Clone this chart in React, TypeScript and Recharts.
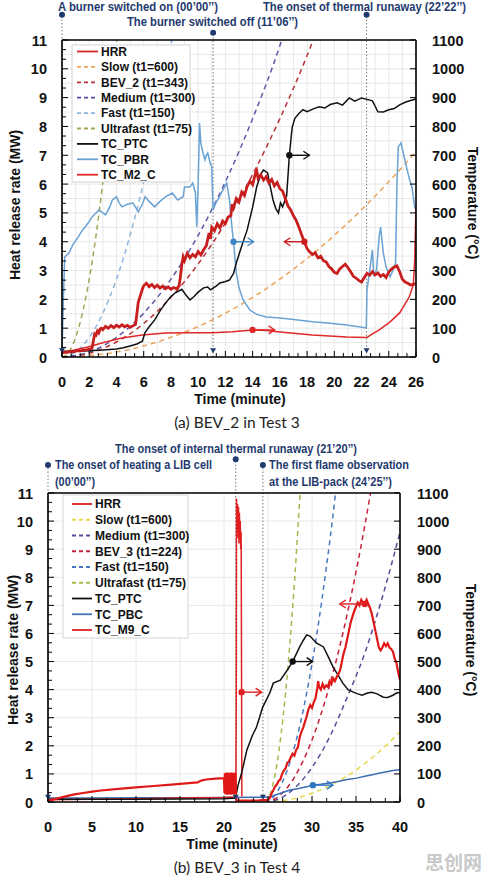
import React from 'react';
import { ComposedChart, Line, XAxis, YAxis, CartesianGrid, ReferenceLine, ReferenceDot } from 'recharts';

type P = [number, number];

// ---------- Panel (a): BEV_2 in Test 3 ----------
const topXLabels = [0, 2, 4, 6, 8, 10, 12, 14, 16, 18, 20, 22, 24, 26];
const hrrLabels = [0, 1, 2, 3, 4, 5, 6, 7, 8, 9, 10, 11];
const tempLabels = [0, 100, 200, 300, 400, 500, 600, 700, 800, 900, 1000, 1100];

const topHRR: P[] = [
  [0, 0.15], [0.2, 0.17], [0.4, 0.16], [0.6, 0.19], [0.8, 0.18], [1.0, 0.2], [1.2, 0.22], [1.4, 0.21],
  [1.6, 0.24], [1.8, 0.25], [2.0, 0.27], [2.2, 0.3], [2.3, 0.55], [2.4, 0.8], [2.5, 0.76], [2.6, 0.9],
  [2.7, 0.84], [2.8, 0.97], [2.9, 1.0], [3.0, 0.95], [3.2, 1.06], [3.4, 1.0], [3.6, 1.09], [3.8, 1.02],
  [4.0, 1.1], [4.2, 1.04], [4.4, 1.12], [4.6, 1.05], [4.8, 1.1], [5.0, 1.03], [5.2, 1.08], [5.4, 1.13],
  [5.5, 1.5], [5.6, 1.9], [5.8, 2.2], [5.9, 2.35], [6.0, 2.47], [6.2, 2.56], [6.4, 2.44], [6.6, 2.52],
  [6.8, 2.41], [7.0, 2.49], [7.2, 2.39], [7.4, 2.46], [7.6, 2.37], [7.8, 2.43], [8.0, 2.35], [8.2, 2.41],
  [8.4, 2.37], [8.6, 2.46], [8.7, 2.8], [8.8, 3.2], [8.9, 3.47], [9.0, 3.34], [9.2, 3.6], [9.4, 3.44],
  [9.6, 3.56], [9.8, 3.48], [10.0, 3.66], [10.2, 3.54], [10.4, 3.72], [10.6, 3.86], [10.8, 4.3], [10.9, 4.1],
  [11.0, 4.5], [11.2, 4.38], [11.4, 4.62], [11.6, 4.48], [11.8, 4.72], [12.0, 4.63], [12.2, 4.86], [12.4, 4.9],
  [12.5, 5.3], [12.6, 5.18], [12.8, 5.5], [13.0, 5.38], [13.2, 5.72], [13.4, 5.6], [13.6, 5.92], [13.8, 6.1],
  [14.0, 5.98], [14.2, 6.36], [14.3, 6.46], [14.4, 6.2], [14.6, 6.32], [14.8, 6.14], [15.0, 6.26], [15.2, 6.04],
  [15.4, 6.16], [15.6, 5.94], [15.8, 6.06], [16.0, 5.84], [16.2, 5.76], [16.4, 5.5], [16.6, 5.24], [16.8, 5.1],
  [17.0, 4.9], [17.2, 4.74], [17.4, 4.5], [17.6, 4.24], [17.8, 4.0], [18.0, 3.76], [18.2, 3.64], [18.4, 3.56],
  [18.6, 3.62], [18.8, 3.44], [19.0, 3.5], [19.2, 3.34], [19.4, 3.3], [19.6, 3.14], [19.8, 3.06], [20.0, 2.94],
  [20.2, 2.9], [20.4, 3.06], [20.6, 3.14], [20.8, 3.22], [21.0, 3.1], [21.2, 2.96], [21.4, 2.8], [21.6, 2.74],
  [21.8, 2.66], [22.0, 2.6], [22.2, 2.76], [22.4, 2.9], [22.6, 2.84], [22.8, 2.96], [23.0, 2.85], [23.2, 2.92],
  [23.4, 2.8], [23.6, 2.86], [23.8, 2.76], [24.0, 2.95], [24.2, 3.05], [24.4, 3.12], [24.6, 3.16], [24.8, 2.96],
  [25.0, 2.7], [25.2, 2.6], [25.4, 2.56], [25.6, 2.5], [25.8, 2.52], [26.0, 2.55],
];
const topSlow: P[] = [[0, 0], [4, 0.17], [8, 0.68], [12, 1.52], [16, 2.7], [20, 4.22], [24, 6.08], [26, 7.13]];
const topBEV2: P[] = [[0, 0], [2, 0.13], [4, 0.52], [6, 1.16], [8, 2.07], [10, 3.23], [12, 4.65], [14, 6.33], [16, 8.27], [18, 10.46], [18.45, 11]];
const topMedium: P[] = [[0, 0], [2, 0.17], [4, 0.68], [6, 1.52], [8, 2.7], [10, 4.22], [12, 6.08], [14, 8.27], [16, 10.8], [16.14, 11]];
const topFast: P[] = [[0, 0], [1, 0.17], [2, 0.68], [3, 1.52], [4, 2.7], [5, 4.22], [6, 6.08], [7, 8.27], [8, 10.8], [8.07, 11]];
const topUltra: P[] = [[0, 0], [0.5, 0.17], [1, 0.68], [1.5, 1.52], [2, 2.7], [2.5, 4.22], [3, 6.08], [3.5, 8.27], [4, 10.8], [4.04, 11]];
const topPTC: P[] = [
  [0, 20], [1, 20], [2, 22], [3, 24], [4, 28], [4.5, 32], [5, 38], [5.5, 45], [5.9, 55], [6.1, 85], [6.4, 105],
  [6.8, 128], [7.2, 160], [7.6, 187], [8.0, 210], [8.3, 222], [8.8, 235], [9.1, 215], [9.4, 198], [9.7, 210],
  [10.0, 225], [10.4, 240], [10.7, 243], [10.9, 233], [11.3, 245], [11.6, 257], [12.0, 262], [12.3, 267],
  [12.6, 290], [12.8, 326], [13.2, 385], [13.6, 441], [14.0, 520], [14.3, 590], [14.6, 635], [14.8, 649],
  [15.1, 639], [15.3, 590], [15.5, 545], [15.7, 515], [15.9, 500], [16.05, 535], [16.2, 521], [16.35, 540],
  [16.5, 560], [16.7, 700], [16.9, 795], [17.1, 828], [17.4, 845], [17.7, 858], [18.0, 851], [18.5, 862],
  [18.9, 868], [19.3, 864], [19.7, 876], [20.2, 882], [20.6, 874], [21.1, 899], [21.5, 888], [22.0, 899],
  [22.4, 894], [22.8, 889], [23.0, 870], [23.2, 851], [23.6, 850], [24.0, 858], [24.4, 862], [24.8, 875],
  [25.2, 884], [25.6, 890], [26.0, 895],
];
const topPBR: P[] = [
  [0, 15], [0.1, 200], [0.2, 347], [0.5, 360], [0.8, 390], [1.2, 417], [1.5, 440], [1.7, 451], [2.0, 470],
  [2.2, 486], [2.5, 500], [2.7, 510], [3.0, 500], [3.2, 493], [3.5, 520], [3.7, 545], [4.0, 556], [4.2, 535],
  [4.4, 521], [4.8, 530], [5.2, 535], [5.4, 520], [5.6, 503], [5.9, 530], [6.1, 556], [6.4, 540], [6.8, 521],
  [7.2, 540], [7.6, 556], [8.1, 569], [8.5, 545], [8.9, 556], [9.0, 590], [9.4, 590], [9.6, 604], [9.8, 570],
  [9.9, 451], [10.0, 600], [10.1, 812], [10.2, 740], [10.3, 719], [10.5, 684], [10.6, 700], [10.7, 708],
  [10.9, 670], [11.0, 660], [11.1, 510], [11.3, 535], [11.5, 550], [11.7, 569], [12.1, 604], [12.3, 545],
  [12.5, 440], [12.6, 400], [12.8, 292], [13.0, 240], [13.3, 198], [13.8, 163], [14.3, 148], [15.0, 139],
  [16.0, 135], [17.0, 130], [18.4, 122], [19.5, 118], [20.9, 111], [21.8, 105], [22.35, 101], [22.4, 233],
  [22.6, 300], [22.8, 372], [22.9, 280], [23.1, 302], [23.3, 420], [23.4, 451], [23.6, 361], [23.8, 313],
  [24.1, 278], [24.3, 300], [24.5, 326], [24.6, 600], [24.7, 729], [24.9, 743], [25.1, 700], [25.3, 660],
  [25.5, 620], [25.7, 590], [25.9, 521], [26.0, 510],
];
const topM2C: P[] = [
  [0, 14], [1, 25], [1.9, 35], [3.2, 52], [4.4, 66], [5.9, 76], [7.6, 83], [9.3, 84], [11.1, 84], [12.5, 88],
  [14.0, 94], [15.0, 92], [16.0, 87], [18.4, 76], [20.9, 69], [22.4, 68], [22.8, 80], [23.3, 94], [24.1, 122],
  [24.8, 153], [25.5, 208], [25.8, 250], [25.9, 330], [26.0, 520],
];

// ---------- Panel (b): BEV_3 in Test 4 ----------
const botXLabels = [0, 5, 10, 15, 20, 25, 30, 35, 40];

const botHRR: P[] = [
  [0, 0.05], [1, 0.12], [2, 0.2], [3, 0.27], [4, 0.32], [5, 0.37], [6, 0.41], [8, 0.47], [10, 0.52], [12, 0.57],
  [14, 0.62], [16, 0.67], [17, 0.7], [17.5, 0.77], [18, 0.8], [19, 0.83], [20, 0.85],
  [20.05, 0.32], [20.1, 1.02], [20.15, 0.28], [20.2, 1.04], [20.25, 0.3], [20.3, 1.0], [20.35, 0.26], [20.4, 1.05],
  [20.45, 0.3], [20.5, 1.02], [20.55, 0.27], [20.6, 1.04], [20.65, 0.29], [20.7, 1.03], [20.75, 0.26], [20.8, 1.05],
  [20.85, 0.3], [20.9, 1.02], [20.95, 0.28], [21.0, 1.04], [21.05, 0.27], [21.1, 1.03], [21.15, 0.3], [21.2, 1.05],
  [21.25, 0.28], [21.3, 1.02], [21.35, 0.3], [21.4, 0.06], [22, 0.05], [23, 0.05], [24, 0.06], [25.0, 0.08],
  [25.2, 0.14], [25.4, 0.3], [25.6, 0.42], [25.8, 0.55], [26.0, 0.62], [26.2, 0.75], [26.4, 0.8], [26.6, 1.0],
  [26.8, 1.12], [27.0, 1.2], [27.2, 1.4], [27.4, 1.45], [27.6, 1.6], [27.8, 1.72], [28.0, 1.65], [28.2, 1.85],
  [28.4, 1.95], [28.6, 2.3], [28.8, 2.5], [29.0, 2.65], [29.2, 2.85], [29.4, 3.05], [29.6, 3.3], [29.8, 3.45],
  [30.0, 3.35], [30.2, 3.55], [30.4, 3.7], [30.6, 4.05], [30.7, 4.3], [30.8, 4.1], [31.0, 4.0], [31.2, 4.2],
  [31.4, 4.05], [31.6, 4.15], [31.8, 4.1], [32.0, 4.3], [32.2, 4.2], [32.4, 4.4], [32.6, 4.3], [32.8, 4.45],
  [33.0, 4.55], [33.2, 4.7], [33.4, 5.0], [33.6, 5.3], [33.8, 5.5], [34.0, 5.8], [34.2, 6.1], [34.4, 6.4],
  [34.6, 6.6], [34.8, 6.8], [35.0, 6.95], [35.2, 7.1], [35.4, 7.0], [35.6, 7.2], [35.8, 7.1], [36.0, 7.05],
  [36.2, 7.2], [36.4, 7.05], [36.6, 6.9], [36.8, 6.7], [37.0, 6.4], [37.2, 6.1], [37.4, 5.8], [37.6, 5.5],
  [37.8, 5.4], [38.0, 5.5], [38.2, 5.65], [38.4, 5.55], [38.6, 5.65], [38.8, 5.5], [39.0, 5.45], [39.2, 5.35],
  [39.4, 5.1], [39.6, 4.95], [39.8, 4.6], [40.0, 4.35],
];
const botSlow: P[] = [[24.6, 0], [28, 0.12], [30, 0.31], [32, 0.58], [34, 0.93], [36, 1.37], [38, 1.89], [40, 2.5]];
const botMedium: P[] = [[24.6, 0], [26, 0.08], [28, 0.49], [30, 1.23], [32, 2.31], [34, 3.73], [36, 5.3], [38, 7.3], [40, 9.6]];
const botBEV3: P[] = [[24.6, 0], [26, 0.15], [28, 0.88], [30, 2.21], [32, 4.15], [34, 6.69], [35, 8.19], [36, 9.84], [36.65, 11]];
const botFast: P[] = [[24.6, 0], [25.6, 0.17], [26.6, 0.68], [27.6, 1.52], [28.6, 2.7], [29.6, 4.22], [30.6, 6.08], [31.6, 8.28], [32.6, 10.8], [32.67, 11]];
const botUltra: P[] = [[24.6, 0], [25, 0.11], [25.5, 0.55], [26, 1.32], [26.5, 2.44], [27, 3.89], [27.5, 5.68], [28, 7.8], [28.5, 10.27], [28.64, 11]];
const botPTC: P[] = [
  [0, 10], [5, 10], [10, 10], [15, 11], [20, 12], [21.3, 14], [21.6, 60], [22, 103], [22.6, 185], [23.2, 235],
  [23.7, 267], [24.4, 338], [25.2, 388], [25.6, 423], [26.4, 434], [27.2, 470], [27.8, 500], [28.6, 552],
  [29.0, 575], [29.4, 595], [29.8, 590], [30.5, 566], [31.3, 552], [31.8, 520], [32.4, 480], [33.0, 450],
  [33.5, 423], [34.1, 400], [34.7, 391], [35.2, 385], [35.7, 380], [36.3, 388], [36.8, 391], [37.4, 385],
  [38.1, 373], [38.6, 372], [39.2, 380], [39.6, 388], [40, 390],
];
const botPBC: P[] = [
  [0, 14], [5, 14], [10, 15], [15, 15], [20, 16], [24, 17], [25.2, 18], [26.5, 32], [27.5, 43], [28.5, 48],
  [29.5, 55], [30.1, 60], [31, 63], [32, 68], [32.8, 72], [34, 80], [35.1, 85], [36, 92], [37, 98], [37.7, 103],
  [38.5, 108], [39.2, 112], [40, 115],
];
const botM9C: P[] = [
  [0, 8], [5, 10], [10, 12], [15, 14], [20, 16], [21.35, 18], [21.4, 420], [21.42, 1080], [21.5, 980],
  [21.55, 1060], [21.6, 940], [21.65, 1050], [21.7, 920], [21.75, 1030], [21.8, 960], [21.85, 1000],
  [21.9, 900], [21.95, 960], [22.0, 391], [22.03, 20],
];

// Event times (minutes)
const topEvents = [0, 11.1, 22.37];
const botEvents = [0, 21.33, 24.42];

// ---------- Styling helpers ----------
const FONT = '"Liberation Sans", Arial, Helvetica, sans-serif';
const NAVY = '#1f3a6e';

type Series = { pts: P[]; color: string; width: number; axis: 'L' | 'T'; dash?: string; curve?: 'monotone' | 'linear' };
type Marker = { t: number; v: number; axis: 'L' | 'T'; color: string; dir: 1 | -1; len: number };
type EventMark = { t: number; dotV: number; triV: number };

const near = (a: number, list: number[]) => list.some((l) => Math.abs(l - a) < 1e-6);
const steps = (max: number, step: number) =>
  Array.from({ length: Math.round(max / step) + 1 }, (_, i) => Math.round(i * step * 1000) / 1000);
const rows = (pts: P[]) => pts.map(([t, v]) => ({ t, v }));

const makeXTick = (labels: number[]) => (p: any) => {
  const { x, y, payload } = p;
  const major = near(payload.value, labels);
  return (
    <g>
      <line x1={x} x2={x} y1={y} y2={y - (major ? 6 : 4)} stroke="#000" strokeWidth={1} />
      {major && (
        <text x={x} y={y + 30} textAnchor="middle" fontFamily={FONT} fontWeight={700} fontSize={14.5} fill="#111">
          {payload.value}
        </text>
      )}
    </g>
  );
};
const makeLeftTick = (labels: number[]) => (p: any) => {
  const { x, y, payload } = p;
  const major = near(payload.value, labels);
  return (
    <g>
      <line x1={x} x2={x + (major ? 6 : 4)} y1={y} y2={y} stroke="#000" strokeWidth={1} />
      {major && (
        <text x={x - 15} y={y + 5.5} textAnchor="end" fontFamily={FONT} fontWeight={700} fontSize={14.5} fill="#111">
          {payload.value}
        </text>
      )}
    </g>
  );
};
const makeRightTick = (offset: number) => (p: any) => {
  const { x, y, payload } = p;
  return (
    <g>
      <line x1={x} x2={x - 6} y1={y} y2={y} stroke="#000" strokeWidth={1} />
      <text x={x + offset} y={y + 5.5} textAnchor="start" fontFamily={FONT} fontWeight={700} fontSize={14.5} fill="#111">
        {payload.value}
      </text>
    </g>
  );
};

const arrowShape = (color: string, dir: number, len: number) => (p: any) => {
  const { cx, cy } = p;
  const ex = cx + dir * len;
  return (
    <g>
      <line x1={cx} y1={cy} x2={ex} y2={cy} stroke={color} strokeWidth={1.4} />
      <polyline points={`${ex - dir * 6},${cy - 4} ${ex},${cy} ${ex - dir * 6},${cy + 4}`} fill="none" stroke={color} strokeWidth={1.4} />
      <circle cx={cx} cy={cy} r={3.2} fill={color} />
    </g>
  );
};
const triangleShape = (p: any) => {
  const { cx, cy } = p;
  return <polygon points={`${cx - 3},${cy - 3} ${cx + 3},${cy - 3} ${cx},${cy + 2}`} fill={NAVY} />;
};

type PanelProps = {
  w: number; h: number; margin: { top: number; right: number; bottom: number; left: number };
  leftW: number; rightW: number; rightOffset: number;
  xMax: number; xLabels: number[]; xMinorStep: number;
  gridX: number[]; gridY: number[];
  series: Series[]; markers: Marker[]; events: EventMark[];
};

function Panel(pp: PanelProps) {
  const xTicks = steps(pp.xMax, pp.xMinorStep);
  const yTicks = steps(11, 1 / 3);
  return (
    <ComposedChart width={pp.w} height={pp.h} margin={pp.margin}>
      <CartesianGrid xAxisId="x" yAxisId="L" horizontalValues={pp.gridY} verticalValues={pp.gridX} stroke="#e2e2e2" strokeWidth={0.8} />
      <XAxis
        xAxisId="x" type="number" dataKey="t" domain={[0, pp.xMax]} ticks={xTicks} interval={0}
        tick={makeXTick(pp.xLabels)} tickLine={false} tickSize={0} tickMargin={0} height={30}
        axisLine={{ stroke: '#000', strokeWidth: 1.6 }} allowDataOverflow
      />
      <YAxis
        yAxisId="L" orientation="left" type="number" domain={[0, 11]} ticks={yTicks} interval={0}
        tick={makeLeftTick(hrrLabels)} tickLine={false} tickSize={0} tickMargin={0} width={pp.leftW}
        axisLine={{ stroke: '#000', strokeWidth: 1.6 }} allowDataOverflow
      />
      <YAxis
        yAxisId="T" orientation="right" type="number" domain={[0, 1100]} ticks={tempLabels} interval={0}
        tick={makeRightTick(pp.rightOffset)} tickLine={false} tickSize={0} tickMargin={0} width={pp.rightW}
        axisLine={{ stroke: '#000', strokeWidth: 1.6 }} allowDataOverflow
      />
      {pp.events.map((e, i) => (
        <ReferenceLine
          key={`ev${i}`} xAxisId="x" yAxisId="L" ifOverflow="visible"
          segment={[{ x: e.t, y: 0 }, { x: e.t, y: e.dotV }]}
          stroke="#7a7a7a" strokeWidth={1} strokeDasharray="1.5 2"
        />
      ))}
      {pp.series.map((s, i) => (
        <Line
          key={`s${i}`} xAxisId="x" yAxisId={s.axis} data={rows(s.pts)} dataKey="v"
          type={s.curve || 'linear'} stroke={s.color} strokeWidth={s.width} strokeDasharray={s.dash}
          dot={false} activeDot={false} isAnimationActive={false}
        />
      ))}
      <ReferenceLine xAxisId="x" yAxisId="L" y={11} stroke="#000" strokeWidth={1.6} />
      {pp.events.map((e, i) => (
        <ReferenceDot key={`ed${i}`} xAxisId="x" yAxisId="L" x={e.t} y={e.dotV} r={3} fill={NAVY} stroke="none" ifOverflow="visible" />
      ))}
      {pp.events.map((e, i) => (
        <ReferenceDot key={`et${i}`} xAxisId="x" yAxisId="L" x={e.t} y={e.triV} shape={triangleShape} ifOverflow="visible" />
      ))}
      {pp.markers.map((m, i) => (
        <ReferenceDot key={`m${i}`} xAxisId="x" yAxisId={m.axis} x={m.t} y={m.v} shape={arrowShape(m.color, m.dir, m.len)} ifOverflow="visible" />
      ))}
    </ComposedChart>
  );
}

// ---------- Legend ----------
type LegendItem = { label: string; color: string; dash?: boolean };
const topLegend: LegendItem[] = [
  { label: 'HRR', color: '#d42a2a' },
  { label: 'Slow (t1=600)', color: '#eba45a', dash: true },
  { label: 'BEV_2 (t1=343)', color: '#b8323c', dash: true },
  { label: 'Medium (t1=300)', color: '#4f4fa8', dash: true },
  { label: 'Fast (t1=150)', color: '#8fb4dc', dash: true },
  { label: 'Ultrafast (t1=75)', color: '#a8a458', dash: true },
  { label: 'TC_PTC', color: '#111' },
  { label: 'TC_PBR', color: '#6aa2d4' },
  { label: 'TC_M2_C', color: '#e02828' },
];
const botLegend: LegendItem[] = [
  { label: 'HRR', color: '#e02020' },
  { label: 'Slow (t1=600)', color: '#e6d84a', dash: true },
  { label: 'Medium (t1=300)', color: '#50509a', dash: true },
  { label: 'BEV_3 (t1=224)', color: '#c8203c', dash: true },
  { label: 'Fast (t1=150)', color: '#4a78c0', dash: true },
  { label: 'Ultrafast (t1=75)', color: '#a6b84e', dash: true },
  { label: 'TC_PTC', color: '#111' },
  { label: 'TC_PBC', color: '#4a72b8' },
  { label: 'TC_M9_C', color: '#e02020' },
];

function LegendBox(p: { x: number; y: number; w: number; h: number; y0: number; step: number; sx: number; sw: number; tx: number; items: LegendItem[] }) {
  return (
    <g>
      <rect x={p.x} y={p.y} width={p.w} height={p.h} fill="#fff" stroke="#d4d4d4" strokeWidth={1} />
      {p.items.map((it, i) => {
        const cy = p.y0 + i * p.step;
        return (
          <g key={it.label}>
            <line x1={p.sx} x2={p.sx + p.sw} y1={cy} y2={cy} stroke={it.color} strokeWidth={1.8} strokeDasharray={it.dash ? '4 3' : undefined} />
            <text x={p.tx} y={cy + 4.3} fontFamily={FONT} fontWeight={700} fontSize={12} fill="#111">{it.label}</text>
          </g>
        );
      })}
    </g>
  );
}

// Annotation text, stretched to a fixed run length
function Note(p: { x: number; y: number; len: number; children: string }) {
  return (
    <text x={p.x} y={p.y} textLength={p.len} lengthAdjust="spacingAndGlyphs" fontFamily={FONT} fontWeight={700} fontSize={12.2} fill={NAVY}>
      {p.children}
    </text>
  );
}

const title = { fontFamily: FONT, fontWeight: 700, fontSize: 14, fill: '#111', textAnchor: 'middle' as const };
const caption = { fontFamily: 'Lato, "Open Sans", sans-serif', fontSize: 15.5, fill: '#222', textAnchor: 'middle' as const };

export default function App() {
  const topSeries: Series[] = [
    { pts: topSlow, color: '#eba45a', width: 1.5, axis: 'L', dash: '5 4', curve: 'monotone' },
    { pts: topBEV2, color: '#b8323c', width: 1.5, axis: 'L', dash: '5 4', curve: 'monotone' },
    { pts: topMedium, color: '#5a5aa8', width: 1.5, axis: 'L', dash: '5 4', curve: 'monotone' },
    { pts: topFast, color: '#8fb4dc', width: 1.5, axis: 'L', dash: '5 4', curve: 'monotone' },
    { pts: topUltra, color: '#a8a458', width: 1.5, axis: 'L', dash: '5 4', curve: 'monotone' },
    { pts: topPBR, color: '#6aa2d4', width: 1.5, axis: 'T' },
    { pts: topM2C, color: '#e02828', width: 1.5, axis: 'T' },
    { pts: topPTC, color: '#111', width: 1.5, axis: 'T' },
    { pts: topHRR, color: '#c81e1e', width: 2.8, axis: 'L' },
  ];
  const topMarkers: Marker[] = [
    { t: 16.7, v: 700, axis: 'T', color: '#111', dir: 1, len: 20 },
    { t: 12.6, v: 400, axis: 'T', color: '#3f86c2', dir: 1, len: 20 },
    { t: 14.0, v: 94, axis: 'T', color: '#e02828', dir: 1, len: 22 },
    { t: 17.8, v: 4.0, axis: 'L', color: '#c81e1e', dir: -1, len: 20 },
  ];
  const botSeries: Series[] = [
    { pts: botSlow, color: '#e6d84a', width: 1.5, axis: 'L', dash: '5 4', curve: 'monotone' },
    { pts: botMedium, color: '#50509a', width: 1.5, axis: 'L', dash: '5 4', curve: 'monotone' },
    { pts: botBEV3, color: '#c8203c', width: 1.5, axis: 'L', dash: '5 4', curve: 'monotone' },
    { pts: botFast, color: '#4a78c0', width: 1.5, axis: 'L', dash: '5 4', curve: 'monotone' },
    { pts: botUltra, color: '#a6b84e', width: 1.5, axis: 'L', dash: '5 4', curve: 'monotone' },
    { pts: botPBC, color: '#3c6cb4', width: 1.5, axis: 'T' },
    { pts: botM9C, color: '#e02020', width: 1.5, axis: 'T' },
    { pts: botPTC, color: '#111', width: 1.5, axis: 'T' },
    { pts: botHRR, color: '#e01818', width: 2.2, axis: 'L' },
  ];
  const botMarkers: Marker[] = [
    { t: 22.0, v: 391, axis: 'T', color: '#e02020', dir: 1, len: 20 },
    { t: 27.8, v: 500, axis: 'T', color: '#111', dir: 1, len: 20 },
    { t: 30.1, v: 60, axis: 'T', color: '#2f78c0', dir: 1, len: 20 },
    { t: 36.0, v: 7.05, axis: 'L', color: '#e02020', dir: -1, len: 25 },
  ];

  return (
    <div style={{ position: 'absolute', left: 0, top: 0, width: 484, height: 876, background: '#fff', overflow: 'hidden' }}>
      <div style={{ position: 'absolute', left: 0, top: 0 }}>
        <Panel
          w={484} h={440} margin={{ top: 40, right: 8, bottom: 53, left: 0 }}
          leftW={62} rightW={60} rightOffset={16}
          xMax={26} xLabels={topXLabels} xMinorStep={2 / 3}
          gridX={steps(26, 1)} gridY={steps(11, 0.5)}
          series={topSeries} markers={topMarkers}
          events={[
            { t: topEvents[0], dotV: 11.875, triV: 0.2 },
            { t: topEvents[1], dotV: 11.25, triV: 0.2 },
            { t: topEvents[2], dotV: 11.875, triV: 0.2 },
          ]}
        />
      </div>
      <div style={{ position: 'absolute', left: 0, top: 440 }}>
        <Panel
          w={484} h={436} margin={{ top: 53, right: 24, bottom: 44, left: 0 }}
          leftW={48} rightW={60} rightOffset={17}
          xMax={40} xLabels={botXLabels} xMinorStep={5 / 3}
          gridX={steps(40, 5)} gridY={steps(11, 1)}
          series={botSeries} markers={botMarkers}
          events={[
            { t: botEvents[0], dotV: 12.0, triV: 0.15 },
            { t: botEvents[1], dotV: 12.2, triV: 0.15 },
            { t: botEvents[2], dotV: 12.0, triV: 0.15 },
          ]}
        />
      </div>
      <svg style={{ position: 'absolute', left: 0, top: 0, pointerEvents: 'none' }} width={484} height={876}>
        {/* panel (a) texts */}
        <Note x={58} y={10.5} len={160}>A burner switched on (00’00’’)</Note>
        <Note x={127} y={26} len={171}>The burner switched off (11’06’’)</Note>
        <Note x={263} y={10.5} len={203}>The onset of thermal runaway (22’22’’)</Note>
        <LegendBox x={72} y={45} w={118} h={137} y0={51.5} step={15.4} sx={77} sw={21} tx={101} items={topLegend} />
        <text transform="translate(20,205) rotate(-90)" {...title}>Heat release rate (MW)</text>
        <text transform="translate(468,203) rotate(90)" {...title}>Temperature (°C)</text>
        <text x={240} y={404} {...title}>Time (minute)</text>
        <text x={237} y={428} {...caption}>(a) BEV_2 in Test 3</text>

        {/* panel (b) texts */}
        <Note x={115} y={453} len={242}>The onset of internal thermal runaway (21’20’’)</Note>
        <Note x={55} y={469} len={157}>The onset of heating a LIB cell</Note>
        <Note x={55} y={486} len={40}>(00’00’’)</Note>
        <Note x={269} y={469} len={140}>The first flame observation</Note>
        <Note x={269} y={486} len={123}>at the LIB-pack (24’25’’)</Note>
        <LegendBox x={63} y={495} w={125} h={143} y0={504} step={15.75} sx={72} sw={20} tx={95} items={botLegend} />
        <text transform="translate(18,650) rotate(-90)" {...title}>Heat release rate (MW)</text>
        <text transform="translate(466,640) rotate(90)" {...title}>Temperature (°C)</text>
        <text x={232} y={849} {...title}>Time (minute)</text>
        <text x={237} y={873} {...caption}>(b) BEV_3 in Test 4</text>
        <text x={482} y={870} textAnchor="end" fontFamily='"Noto Sans CJK SC", sans-serif' fontWeight={700} fontSize={19} fill="#c9c9c9">思创网</text>
      </svg>
    </div>
  );
}
